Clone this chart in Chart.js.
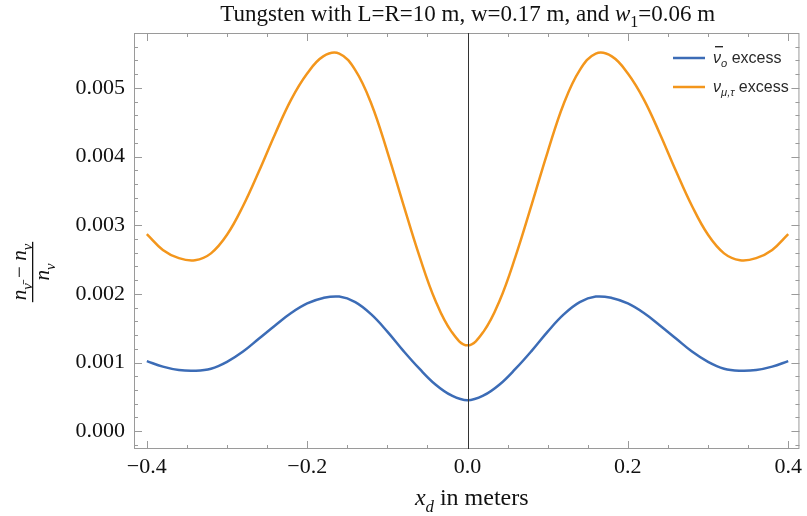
<!DOCTYPE html>
<html>
<head>
<meta charset="utf-8">
<script src="https://cdn.jsdelivr.net/npm/chart.js@4"></script>
<style>
  html, body { margin: 0; padding: 0; background: #fff; }
  #wrap { width: 807px; height: 516px; }
</style>
</head>
<body>
<div id="wrap"><canvas id="chart" width="807" height="516"></canvas></div>
<script>
// positions along the detector, metres
const xValues = [-0.40, -0.38, -0.36, -0.34, -0.32, -0.30, -0.28, -0.26, -0.24, -0.22, -0.20,
                 -0.18, -0.16, -0.14, -0.12, -0.10, -0.08, -0.06, -0.04, -0.02, 0.00,
                 0.02, 0.04, 0.06, 0.08, 0.10, 0.12, 0.14, 0.16, 0.18, 0.20,
                 0.22, 0.24, 0.26, 0.28, 0.30, 0.32, 0.34, 0.36, 0.38, 0.40];

// anti-nu_e excess
const nuBarExcess = [0.00102, 0.00094, 0.00089, 0.00088, 0.00091, 0.00101, 0.00116, 0.00135, 0.00154, 0.00172, 0.00186,
                     0.00194, 0.00196, 0.00188, 0.00170, 0.00145, 0.00117, 0.00091, 0.00068, 0.00052, 0.00045,
                     0.00052, 0.00068, 0.00091, 0.00117, 0.00145, 0.00170, 0.00188, 0.00196, 0.00194, 0.00186,
                     0.00172, 0.00154, 0.00135, 0.00116, 0.00101, 0.00091, 0.00088, 0.00089, 0.00094, 0.00102];

// nu_mu,tau excess
const nuMuTauExcess = [0.00287, 0.00264, 0.00252, 0.00249, 0.00259, 0.00286, 0.00328, 0.00379, 0.00433, 0.00483, 0.00521,
                       0.00546, 0.00550, 0.00526, 0.00477, 0.00407, 0.00330, 0.00255, 0.00190, 0.00145, 0.00125,
                       0.00145, 0.00190, 0.00255, 0.00330, 0.00407, 0.00477, 0.00526, 0.00550, 0.00546, 0.00521,
                       0.00483, 0.00433, 0.00379, 0.00328, 0.00286, 0.00259, 0.00249, 0.00252, 0.00264, 0.00287];

const xTicks = [-0.4, -0.2, 0.0, 0.2, 0.4];
const xMinorTicks = [-0.4, -0.35, -0.3, -0.25, -0.2, -0.15, -0.1, -0.05, 0, 0.05, 0.1, 0.15, 0.2, 0.25, 0.3, 0.35, 0.4];
const yTicks = [0, 0.001, 0.002, 0.003, 0.004, 0.005];
const yMinorTicks = [-0.0002, 0, 0.0002, 0.0004, 0.0006, 0.0008, 0.001, 0.0012, 0.0014, 0.0016, 0.0018, 0.002,
                     0.0022, 0.0024, 0.0026, 0.0028, 0.003, 0.0032, 0.0034, 0.0036, 0.0038, 0.004,
                     0.0042, 0.0044, 0.0046, 0.0048, 0.005, 0.0052, 0.0054, 0.0056];

const BLUE = '#3c6cb6';
const ORANGE = '#f3961c';
const SERIF = '"Liberation Serif", "DejaVu Serif", serif';
const SANS = '"Liberation Sans", Arial, sans-serif';

// draws a run of text pieces: {t, it, sub}
function drawRuns(ctx, runs, x, y, size, family, align) {
    const fontOf = r => `${r.it ? 'italic ' : ''}${r.sub ? size * 0.7 : size}px ${family}`;
    const widths = runs.map(r => { ctx.font = fontOf(r); return ctx.measureText(r.t).width; });
    const total = widths.reduce((a, b) => a + b, 0);
    let cx = align === 'center' ? x - total / 2 : x;
    runs.forEach((r, i) => {
        ctx.font = fontOf(r);
        ctx.fillText(r.t, cx, r.sub ? y + size * 0.28 : y);
        cx += widths[i];
    });
    return total;
}

const decorations = {
    id: 'decorations',
    beforeDatasetsDraw(chart) {
        const ctx = chart.ctx;
        const a = chart.chartArea;
        const xs = chart.scales.x, ys = chart.scales.y;
        ctx.save();
        ctx.strokeStyle = '#9a9a9a';
        ctx.lineWidth = 1;
        ctx.strokeRect(a.left + 0.5, a.top + 0.5, a.right - a.left - 1, a.bottom - a.top - 1);
        ctx.beginPath();
        xMinorTicks.forEach(v => {
            const px = Math.round(xs.getPixelForValue(v)) + 0.5;
            const len = xTicks.some(t => Math.abs(t - v) < 1e-9) ? 8 : 4;
            ctx.moveTo(px, a.bottom); ctx.lineTo(px, a.bottom - len);
            ctx.moveTo(px, a.top); ctx.lineTo(px, a.top + len);
        });
        yMinorTicks.forEach(v => {
            const py = Math.round(ys.getPixelForValue(v)) + 0.5;
            const len = yTicks.some(t => Math.abs(t - v) < 1e-9) ? 8 : 4;
            ctx.moveTo(a.left, py); ctx.lineTo(a.left + len, py);
            ctx.moveTo(a.right, py); ctx.lineTo(a.right - len, py);
        });
        ctx.stroke();
        ctx.restore();
    },
    afterDatasetsDraw(chart) {
        const ctx = chart.ctx;
        const a = chart.chartArea;
        const xs = chart.scales.x;
        ctx.save();
        // x = 0 axis
        const x0 = Math.round(xs.getPixelForValue(0)) + 0.5;
        ctx.strokeStyle = '#333';
        ctx.lineWidth = 1;
        ctx.beginPath();
        ctx.moveTo(x0, a.top); ctx.lineTo(x0, a.bottom);
        ctx.stroke();

        ctx.fillStyle = '#111';
        ctx.textBaseline = 'alphabetic';
        // title
        drawRuns(ctx, [
            {t: 'Tungsten with L=R=10 m, w=0.17 m, and '},
            {t: 'w', it: true}, {t: '1', sub: true}, {t: '=0.06 m'}
        ], (a.left + a.right) / 2 + 1, 21, 23, SERIF, 'center');

        // x label
        drawRuns(ctx, [
            {t: 'x', it: true}, {t: 'd', it: true, sub: true}, {t: ' in meters'}
        ], (a.left + a.right) / 2 + 5, 505, 24, SERIF, 'center');

        // y label, a rotated fraction
        ctx.save();
        ctx.translate(33, (a.top + a.bottom) / 2 + 31);
        ctx.rotate(-Math.PI / 2);
        const numW = drawRuns(ctx, [
            {t: 'n', it: true}, {t: 'ν̄', it: true, sub: true}, {t: ' − '},
            {t: 'n', it: true}, {t: 'ν', it: true, sub: true}
        ], 0, -7, 21, SERIF, 'center');
        ctx.fillRect(-numW / 2 - 2, -1, numW + 4, 1.3);
        drawRuns(ctx, [
            {t: 'n', it: true}, {t: 'ν', it: true, sub: true}
        ], 0, 16, 21, SERIF, 'center');
        ctx.restore();

        // legend
        const items = [
            {color: BLUE, y: 58, runs: [{t: 'ν', it: true}, {t: 'o', it: true, sub: true}, {t: ' excess'}], bar: true},
            {color: ORANGE, y: 87, runs: [{t: 'ν', it: true}, {t: 'μ,τ', it: true, sub: true}, {t: ' excess'}]}
        ];
        items.forEach(it => {
            ctx.strokeStyle = it.color;
            ctx.lineWidth = 2.5;
            ctx.beginPath();
            ctx.moveTo(673, it.y); ctx.lineTo(705, it.y);
            ctx.stroke();
            ctx.fillStyle = '#2a2a2a';
            drawRuns(ctx, it.runs, 713, it.y + 5, 16, SANS, 'left');
            if (it.bar) ctx.fillRect(715, it.y - 12, 8, 1.4);
        });
        ctx.restore();
    }
};

const toPoints = ys => xValues.map((x, i) => ({x: x, y: ys[i]}));

new Chart(document.getElementById('chart'), {
    type: 'line',
    data: {
        datasets: [
            {
                label: 'anti-nu excess',
                data: toPoints(nuBarExcess),
                borderColor: BLUE,
                borderWidth: 2.5,
                pointRadius: 0,
                tension: 0.4,
                fill: false
            },
            {
                label: 'nu mu,tau excess',
                data: toPoints(nuMuTauExcess),
                borderColor: ORANGE,
                borderWidth: 2.5,
                pointRadius: 0,
                tension: 0.4,
                fill: false
            }
        ]
    },
    options: {
        responsive: false,
        animation: false,
        layout: { padding: { top: 33, right: 2, left: 0, bottom: 0 } },
        plugins: { legend: { display: false }, title: { display: false }, tooltip: { enabled: false } },
        scales: {
            x: {
                type: 'linear',
                min: -0.416,
                max: 0.414,
                grid: { display: false, drawTicks: false },
                border: { display: false },
                afterBuildTicks: s => { s.ticks = xTicks.map(v => ({value: v})); },
                afterFit: s => { s.height = 67; },
                ticks: {
                    padding: 5,
                    color: '#111',
                    font: { family: SERIF, size: 22 },
                    callback: v => (v < 0 ? '−' : '') + Math.abs(v).toFixed(1)
                }
            },
            y: {
                min: -0.00026,
                max: 0.0058,
                grid: { display: false, drawTicks: false },
                border: { display: false },
                afterBuildTicks: s => { s.ticks = yTicks.map(v => ({value: v})); },
                afterFit: s => { s.width = 134; },
                ticks: {
                    padding: 9,
                    color: '#111',
                    font: { family: SERIF, size: 22 },
                    callback: v => v.toFixed(3)
                }
            }
        }
    },
    plugins: [decorations]
});
</script>
</body>
</html>
